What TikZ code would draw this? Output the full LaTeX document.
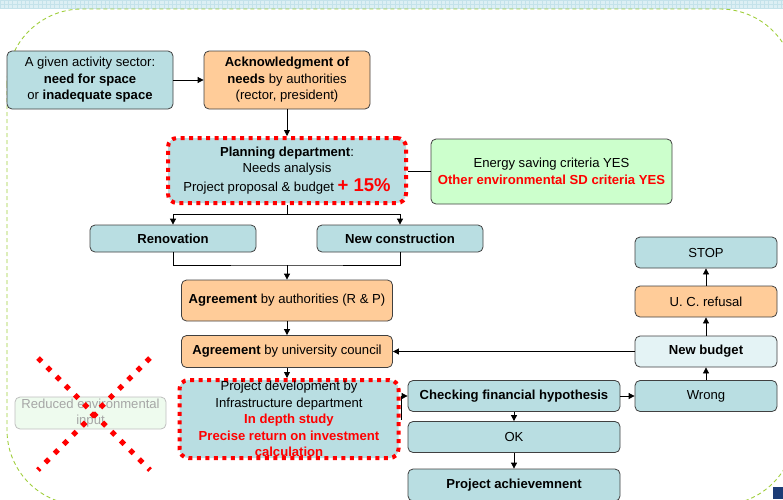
\documentclass[tikz,border=0pt]{standalone}
\usepackage{fontspec}
\setmainfont{Liberation Sans}
\usetikzlibrary{arrows.meta}
\definecolor{tealbox}{RGB}{185,222,226}
\definecolor{orangebox}{RGB}{255,204,153}
\definecolor{greenbox}{RGB}{204,255,204}
\definecolor{paletealbox}{RGB}{228,243,245}
\definecolor{fadedbox}{RGB}{238,251,238}
\definecolor{boxline}{RGB}{64,64,64}
\definecolor{limedash}{RGB}{160,206,60}
\definecolor{stripblue}{RGB}{220,239,244}
\definecolor{stripgrid}{RGB}{196,226,234}
\definecolor{navyblock}{RGB}{28,60,118}

\begin{document}
\begin{tikzpicture}[x=1pt,y=-1pt,>={Triangle[length=6pt,width=6pt]},
  font={\fontsize{13.1}{16.5}\selectfont},line cap=butt,
  box/.style={draw=boxline,line width=0.8pt,rounded corners=5pt,align=center,inner sep=1pt},
  redframe/.style={draw=red,line width=4pt,dash pattern=on 4pt off 4.5pt,rounded corners=9pt,align=center,inner sep=1pt},
  size/.style 2 args={minimum width=#1pt,minimum height=#2pt},
  link/.style={line width=0.8pt},
  redx/.style={red,line width=5pt,dash pattern=on 5pt off 8pt}]
\useasboundingbox (0,0) rectangle (783,499);
% slide background
\fill[stripblue] (0,0) rectangle (783,9);
\draw[stripgrid,line width=0.4pt] (0,0) grid[step=4.2pt] (783,9);
\begin{scope}
\clip (0,0) rectangle (783,499);
\draw[limedash,line width=0.9pt,dash pattern=on 4pt off 3pt,rounded corners=75pt] (7,9) rectangle (795,505);
\end{scope}
\fill[navyblock] (773,487) rectangle (783,499);

% boxes
\node[box,fill=tealbox,size={166}{58}] (sector) at (90,80) {A given activity sector:\\\textbf{need for space}\\or \textbf{inadequate space}};
\node[box,fill=orangebox,size={166}{58}] (ack) at (287,80) {\textbf{Acknowledgment of}\\\textbf{needs} by authorities\\(rector, president)};
\node[redframe,fill=tealbox,size={238}{65}] (plan) at (287,170.5) {\textbf{Planning department}:\\Needs analysis\\[2pt]Project proposal \& budget {\color{red}\bfseries\fontsize{18.5}{18}\selectfont + 15\%}};
\node[box,fill=greenbox,size={241}{65}] (energy) at (551.5,171.5) {Energy saving criteria YES\\{\color{red}\bfseries Other environmental SD criteria YES}};
\node[box,fill=tealbox,size={166}{27}] (reno) at (173,238.5) {\textbf{Renovation}};
\node[box,fill=tealbox,size={166}{27}] (newc) at (400,238.5) {\textbf{New construction}};
\node[box,fill=orangebox,size={211}{41}] (agree1) at (287,300.5) {\textbf{Agreement} by authorities (R \& P)};
\node[box,fill=orangebox,size={211}{32}] (agree2) at (287,351.5) {\textbf{Agreement} by university council};
\node[redframe,fill=tealbox,size={219}{78}] (projdev) at (289,419) {Project development by\\Infrastructure department\\{\color{red}\bfseries In depth study}\\{\color{red}\bfseries Precise return on investment}\\{\color{red}\bfseries calculation}};
\node[box,fill=tealbox,size={212}{31}] (check) at (514,396) {\textbf{Checking financial hypothesis}};
\node[box,fill=tealbox,size={212}{31}] (ok) at (514,437) {OK};
\node[box,fill=tealbox,size={212}{32}] (achieve) at (514,485) {\textbf{Project achievemnent}};
\node[box,fill=tealbox,size={142}{31}] (wrong) at (706,396) {Wrong};
\node[box,fill=paletealbox,size={142}{31}] (newb) at (706,351.5) {\textbf{New budget}};
\node[box,fill=orangebox,size={142}{31}] (refusal) at (706,301.5) {U. C. refusal};
\node[box,fill=tealbox,size={142}{31}] (stop) at (706,252.5) {STOP};
\node[box,draw=black!25,fill=fadedbox,text=black!35,size={151}{32}] (reduced) at (90.5,413) {Reduced environmental\\input};

% crossed out
\draw[redx] (38,358) -- (150,470);
\draw[redx] (150,358) -- (38,470);

% connectors
\coordinate (split) at (287,214);
\coordinate (merge) at (287,265);
\draw[link,->] (sector) -- (ack);
\draw[link,->] (ack) -- (plan);
\draw[link] (energy.west) -- (energy.west -| plan.east);
\draw[link] (plan.south) -- (split);
\draw[link,->] (split) -| (reno.north);
\draw[link,->] (split) -| (newc.north);
\draw[link] (reno.south) |- (merge) -| (newc.south);
\draw[link,->] (merge) -- (agree1.north);
\draw[link,->] (agree1) -- (agree2);
\draw[link,->] (agree2.south) -- (agree2.south |- projdev.north);
\draw[link,->] (projdev.east) -- ++(1,0) |- (check.west);
\draw[link,->] (check) -- (ok);
\draw[link,->] (ok) -- (achieve);
\draw[link,->] (check) -- (wrong);
\draw[link,->] (wrong) -- (newb);
\draw[link,->] (newb) -- (refusal);
\draw[link,->] (refusal) -- (stop);
\draw[link,->] (newb.west) -- (agree2.east);
\end{tikzpicture}
\end{document}
